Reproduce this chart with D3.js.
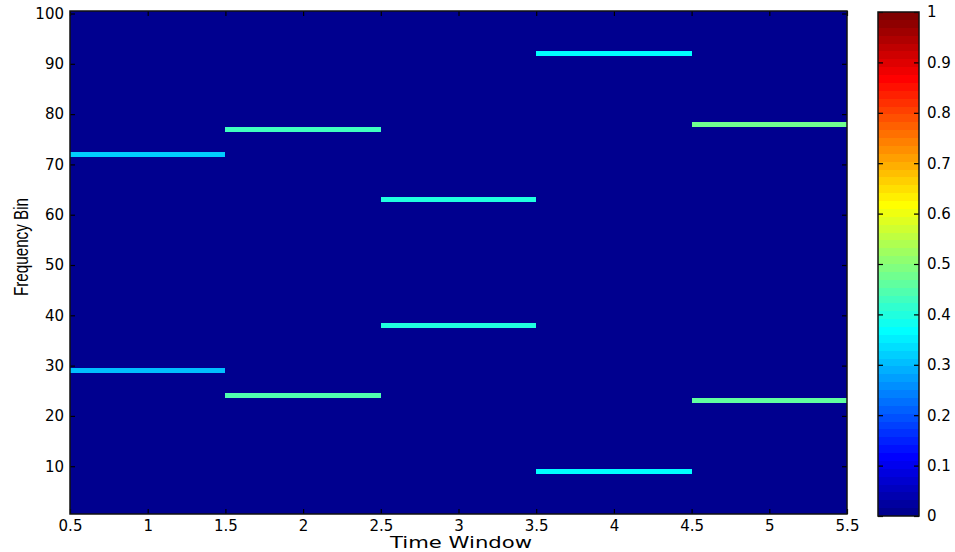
<!DOCTYPE html>
<html>
<head>
<meta charset="utf-8">
<script src="https://cdn.jsdelivr.net/npm/d3@7"></script>
<style>
  body { margin: 0; background: #fff; }
  text { font-family: "DejaVu Sans", "Liberation Sans", Arial, sans-serif; fill: #000; }
  .tick-label { font-size: 15px; }
  .axis-title { font-size: 16px; }
</style>
</head>
<body>
<div id="chart"></div>
<script>
// data
var timeWindows = [1, 2, 3, 4, 5];
var numBins = 100;
var lowBins = [29, 24, 38, 9, 23];
var lowValues = [0.31, 0.44, 0.40, 0.37, 0.46];
var highBins = [72, 77, 63, 92, 78];
var highValues = [0.32, 0.43, 0.40, 0.36, 0.47];

var xTicks = [0.5, 1, 1.5, 2, 2.5, 3, 3.5, 4, 4.5, 5, 5.5];
var yTicks = [10, 20, 30, 40, 50, 60, 70, 80, 90, 100];
var cbTicks = [0, 0.1, 0.2, 0.3, 0.4, 0.5, 0.6, 0.7, 0.8, 0.9, 1];

var svgWidth = 955;
var svgHeight = 552;

var plot = { left: 70, right: 847, top: 11, bottom: 514 };
var bar = { left: 878, right: 919, top: 12, bottom: 516 };

var svg = d3.select("#chart")
  .append("svg")
  .attr("width", svgWidth)
  .attr("height", svgHeight);

// matlab jet(64)
var ramp = [];
for (var i = 1; i <= 16; i++) ramp.push(i / 16);
for (var i = 0; i < 15; i++) ramp.push(1);
for (var i = 16; i >= 1; i--) ramp.push(i / 16);

function chan(row, offset) {
  var k = row - offset;
  return (k >= 1 && k <= 47) ? ramp[k - 1] : 0;
}

function jet(v) {
  var row = Math.min(64, Math.floor(v * 64) + 1);
  return d3.rgb(chan(row, 24) * 255, chan(row, 8) * 255, chan(row, -8) * 255).toString();
}

// build the matrix: bins x windows
var cells = [];
timeWindows.forEach(function(t, j) {
  for (var b = 1; b <= numBins; b++) {
    var v = 0;
    if (b === lowBins[j]) v = lowValues[j];
    if (b === highBins[j]) v = highValues[j];
    cells.push({ t: t, bin: b, value: v });
  }
});

var xScale = d3.scaleLinear().domain([0.5, 5.5]).range([plot.left, plot.right]);
var yScale = d3.scaleLinear().domain([0.5, 100.5]).range([plot.bottom, plot.top]);

// image
svg.append("g")
  .attr("shape-rendering", "crispEdges")
  .selectAll("rect")
  .data(cells)
  .enter()
  .append("rect")
  .attr("x", d => xScale(d.t - 0.5))
  .attr("y", d => yScale(d.bin + 0.5))
  .attr("width", d => xScale(d.t + 0.5) - xScale(d.t - 0.5))
  .attr("height", d => yScale(d.bin - 0.5) - yScale(d.bin + 0.5))
  .attr("fill", d => jet(d.value));

// ticks inside the box (all four sides)
var tickLen = 5;
var axisBottom = d3.axisBottom(xScale).tickValues(xTicks).tickSizeInner(-tickLen).tickSizeOuter(0).tickPadding(6)
  .tickFormat(d3.format("~g"));
var axisTop = d3.axisTop(xScale).tickValues(xTicks).tickSizeInner(-tickLen).tickSizeOuter(0).tickFormat("");
var axisLeft = d3.axisLeft(yScale).tickValues(yTicks).tickSizeInner(-tickLen).tickSizeOuter(0).tickPadding(6);
var axisRight = d3.axisRight(yScale).tickValues(yTicks).tickSizeInner(-tickLen).tickSizeOuter(0).tickFormat("");

function styleAxis(g) {
  g.select(".domain").remove();
  g.selectAll("line").attr("stroke", "#000").attr("stroke-width", 1.2);
  g.selectAll("text").attr("class", "tick-label")
    .attr("font-size", null).attr("font-family", null);
}

svg.append("g").attr("transform", `translate(0, ${plot.bottom})`).call(axisBottom).call(styleAxis);
svg.append("g").attr("transform", `translate(0, ${plot.top})`).call(axisTop).call(styleAxis);
svg.append("g").attr("transform", `translate(${plot.left}, 0)`).call(axisLeft).call(styleAxis);
svg.append("g").attr("transform", `translate(${plot.right}, 0)`).call(axisRight).call(styleAxis);

// box
svg.append("rect")
  .attr("x", plot.left)
  .attr("y", plot.top)
  .attr("width", plot.right - plot.left)
  .attr("height", plot.bottom - plot.top)
  .attr("fill", "none")
  .attr("stroke", "#111")
  .attr("stroke-width", 1.5);

// colorbar
var cScale = d3.scaleLinear().domain([0, 1]).range([bar.bottom, bar.top]);
var steps = d3.range(64);

svg.append("g")
  .attr("shape-rendering", "crispEdges")
  .selectAll("rect")
  .data(steps)
  .enter()
  .append("rect")
  .attr("x", bar.left)
  .attr("y", d => cScale((d + 1) / 64))
  .attr("width", bar.right - bar.left)
  .attr("height", d => cScale(d / 64) - cScale((d + 1) / 64))
  .attr("fill", d => jet((d + 0.5) / 64));

var cbLeft = d3.axisLeft(cScale).tickValues(cbTicks).tickSizeInner(-tickLen).tickSizeOuter(0).tickFormat("");
var cbRight = d3.axisRight(cScale).tickValues(cbTicks).tickSizeInner(-tickLen).tickSizeOuter(0).tickPadding(8)
  .tickFormat(d3.format("~g"));

svg.append("g").attr("transform", `translate(${bar.left}, 0)`).call(cbLeft).call(styleAxis);
svg.append("g").attr("transform", `translate(${bar.right}, 0)`).call(cbRight).call(styleAxis);

svg.append("rect")
  .attr("x", bar.left)
  .attr("y", bar.top)
  .attr("width", bar.right - bar.left)
  .attr("height", bar.bottom - bar.top)
  .attr("fill", "none")
  .attr("stroke", "#111")
  .attr("stroke-width", 1.5);

// axis titles
svg.append("text")
  .attr("class", "axis-title")
  .attr("x", 461)
  .attr("y", 548)
  .attr("text-anchor", "middle")
  .attr("textLength", 142)
  .attr("lengthAdjust", "spacingAndGlyphs")
  .text("Time Window");

svg.append("text")
  .attr("transform", "translate(28, 247) rotate(-90)")
  .attr("text-anchor", "middle")
  .attr("textLength", 98)
  .attr("lengthAdjust", "spacingAndGlyphs")
  .style("font-family", "'Liberation Sans Narrow', 'Liberation Sans', Arial, sans-serif")
  .style("font-size", "21px")
  .text("Frequency Bin");
</script>
</body>
</html>
